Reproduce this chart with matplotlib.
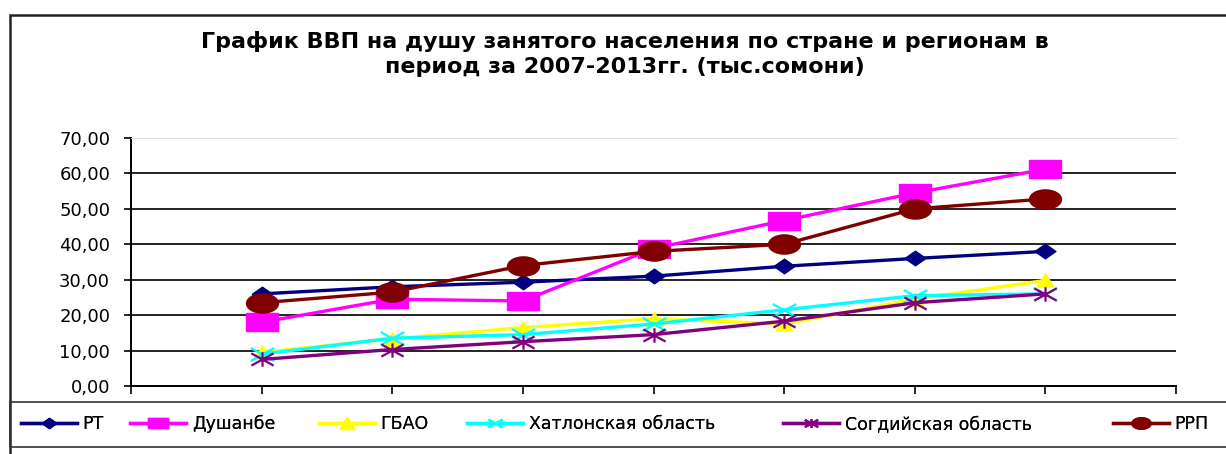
import numpy as np
import matplotlib.pyplot as plt
from matplotlib.patches import Rectangle
from matplotlib.path import Path

plt.rcParams['font.family'] = ['DejaVu Sans']

years = [2007, 2008, 2009, 2010, 2011, 2012, 2013]
rt = [26.0, 28.0, 29.3, 31.0, 33.8, 36.0, 38.0]
dushanbe = [18.0, 24.5, 24.0, 38.8, 46.7, 54.5, 61.2]
gbao = [9.5, 13.3, 16.5, 19.0, 17.5, 24.5, 29.8]
khatlon = [9.0, 13.5, 14.5, 17.5, 21.5, 25.5, 26.0]
sogd = [7.5, 10.3, 12.5, 14.5, 18.3, 23.5, 26.0]
rrp = [23.5, 26.5, 34.0, 38.0, 40.0, 50.0, 52.8]
names = ['РТ', 'Душанбе', 'ГБАО', 'Хатлонская область', 'Согдийская область', 'РРП']
colors = ['#000080', '#FF00FF', '#FFFF00', '#00FFFF', '#800080', '#800000']

# markers in the original are stretched sideways, so build wide ones
M = Path.MOVETO
L = Path.LINETO
diamond = Path([(-1, 0), (0, 0.7), (1, 0), (0, -0.7), (-1, 0)])
square = Path([(-1, -0.56), (1, -0.56), (1, 0.56), (-1, 0.56), (-1, -0.56)])
tri = Path([(-1, -0.8), (1, -0.8), (0, 0.8), (-1, -0.8)])
cross = Path([(-1, -0.55), (1, 0.55), (-1, 0.55), (1, -0.55)], [M, L, M, L])
star = Path([(-1, -0.55), (1, 0.55), (-1, 0.55), (1, -0.55), (0, -0.65), (0, 0.65)],
            [M, L, M, L, M, L])
circ = Path.unit_circle()
ellipse = Path(circ.vertices * [1, 0.6], circ.codes)

markers = [diamond, square, tri, cross, star, ellipse]
msizes = [15, 23, 12, 17, 16, 23]
filled = [True, True, True, False, False, True]
leg_scale = [0.7, 0.6, 0.9, 0.6, 0.6, 0.6]

fig = plt.figure(figsize=(12.26, 4.54), dpi=100)

# outer chart frame and legend box
fig.add_artist(Rectangle((10 / 1226, -0.1), 1.2, 1 - 15 / 454 + 0.1,
                         transform=fig.transFigure, fill=False,
                         edgecolor='#222222', lw=1.8))
fig.add_artist(Rectangle((10 / 1226, 1 - 447 / 454), 1.2, 45 / 454,
                         transform=fig.transFigure, fill=False,
                         edgecolor='#333333', lw=1.2))

ax = fig.add_axes([131 / 1226, 1 - 386 / 454, (1176 - 131) / 1226, (386 - 138) / 454])

x = np.arange(1, len(years) + 1)
data = [rt, dushanbe, gbao, khatlon, sogd, rrp]
handles = []
for vals, name, col, mk, ms, fl in zip(data, names, colors, markers, msizes, filled):
    h, = ax.plot(x, vals, color=col, lw=2.4, marker=mk, markersize=ms,
                 markeredgecolor=col, markerfacecolor=col if fl else 'none',
                 markeredgewidth=1.6 if not fl else 1.0, label=name)
    handles.append(h)

ax.set_xlim(0, len(years) + 1)
ax.set_ylim(0, 70)
yt = np.arange(0, 71, 10)
ax.set_yticks(yt)
ax.set_yticklabels([f'{v:.2f}'.replace('.', ',') for v in yt], fontsize=13)
ax.set_xticks(np.arange(0, len(years) + 2))
ax.set_xticklabels([])
ax.tick_params(axis='y', direction='out', length=5, width=1.2, pad=10)
ax.tick_params(axis='x', direction='out', length=6, width=1.2)
ax.yaxis.grid(True, color='#111111', lw=1.3)
ax.set_axisbelow(True)
ax.spines['right'].set_visible(False)
ax.spines['top'].set_color('#dddddd')
ax.spines['left'].set_linewidth(1.4)
ax.spines['bottom'].set_linewidth(1.4)

fig.text(0.51, 1 - 42 / 454, 'График ВВП на душу занятого населения по стране и регионам в',
         ha='center', va='center', fontsize=16, fontweight='bold')
fig.text(0.51, 1 - 67 / 454, 'период за 2007-2013гг. (тыс.сомони)',
         ha='center', va='center', fontsize=16, fontweight='bold')

# one legend per entry, placed where the original puts them
leg_x = [21, 130, 319, 467, 783, 1113]
for h, lx, sc in zip(handles, leg_x, leg_scale):
    leg = fig.legend(handles=[h], loc='center left', bbox_to_anchor=(lx / 1226, 1 - 424 / 454),
                     frameon=False, fontsize=12.5, handlelength=3.2, handletextpad=0.35,
                     borderaxespad=0, borderpad=0, markerscale=sc)
    fig.add_artist(leg)

fig.savefig('out.png', dpi=100)
